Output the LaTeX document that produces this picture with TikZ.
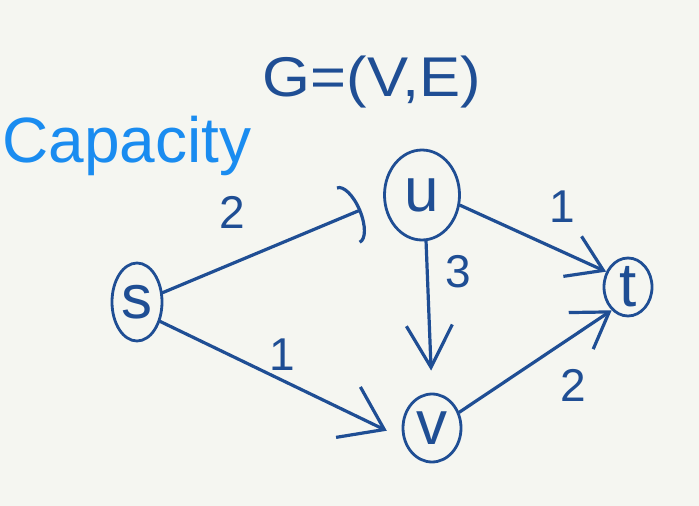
\documentclass[tikz,border=0pt]{standalone}
\usepackage{fontspec}
\setmainfont{Liberation Sans}
\usetikzlibrary{shapes.geometric,arrows.meta}
\definecolor{ink}{HTML}{1F4E94}
\definecolor{capblue}{HTML}{1A8CF0}
\definecolor{paper}{HTML}{F5F6F1}
\begin{document}
\begin{tikzpicture}[x=1pt,y=-1pt,
  vert/.style={draw=ink, line width=2.8pt, ellipse, inner sep=0pt, text=ink,
    font=\fontsize{62}{62}\selectfont},
  edge/.style={draw=ink, line width=3.2pt, line cap=round},
  lab/.style={text=ink, font=\fontsize{46}{46}\selectfont}]
\fill[paper] (0,0) rectangle (699,506);
\useasboundingbox (0,0) rectangle (699,506);
\node[text=ink, font=\fontsize{56}{56}\selectfont, xscale=1.1] (title) at (372,82) {G=(V,E)};
\node[text=capblue, font=\fontsize{64}{64}\selectfont] (capacity) at (127,146) {Capacity};
\node[vert, minimum width=50pt, minimum height=78pt] (s) at (137,302) {s};
\node[vert, minimum width=75pt, minimum height=90pt] (u) at (422,195) {u};
\node[vert, minimum width=48pt, minimum height=58pt] (t) at (628,287) {t};
\node[vert, minimum width=58pt, minimum height=68pt] (v) at (432,428) {v};
\draw[edge, -{Arc Barb[length=14pt,width=62pt]}, shorten >=24pt] (s.20) -- (u.188);
\draw[edge, -{Straight Barb[length=40pt,width=56pt]}, shorten >=18pt] (s.-40) -- (v.200);
\draw[edge, -{Straight Barb[length=34pt,width=44pt]}] (u.-15) -- (t.145);
\draw[edge, -{Straight Barb[length=42pt,width=46pt]}, shorten >=22pt] (u.-85) -- (v.north);
\draw[edge, -{Straight Barb[length=34pt,width=44pt]}] (v.30) -- (t.235);
\node[lab] (c1) at (232,212) {2};
\node[lab] (c2) at (562,207) {1};
\node[lab] (c3) at (458,272) {3};
\node[lab] (c4) at (282,355) {1};
\node[lab] (c5) at (573,385) {2};
\end{tikzpicture}
\end{document}
